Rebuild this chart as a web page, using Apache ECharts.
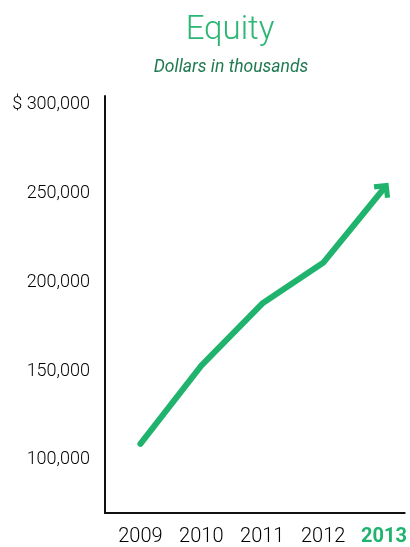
<!DOCTYPE html>
<html>
<head>
<meta charset="utf-8">
<script src="https://cdn.jsdelivr.net/npm/echarts@6/dist/echarts.min.js"></script>
<style>
html,body{margin:0;padding:0;background:#fff;}
#chart{width:410px;height:547px;}
</style>
</head>
<body>
<div id="chart"></div>
<script>
var years = [2009, 2010, 2011, 2012, 2013];
var equity = [109000, 153000, 188000, 211000, 253000];
var yTickValues = [100000, 150000, 200000, 250000, 300000];
var titleText = 'Equity';
var subtitleText = 'Dollars in thousands';

var GREEN = '#1fb36d';
var ARROW = 'path://M10,0 L20,10 L16.5,13.5 L10,7 L3.5,13.5 L0,10 Z';
var seriesData = years.map(function (y, i) {
  var d = { value: [y, equity[i]] };
  if (i === years.length - 1) {
    d.symbol = ARROW;
    d.symbolSize = [21, 14];
    d.symbolRotate = -39;
    d.itemStyle = { color: GREEN };
  }
  return d;
});

var chart = echarts.init(document.getElementById('chart'), null, { renderer: 'canvas' });
chart.setOption({
  animation: false,
  backgroundColor: '#fff',
  title: [
    { text: titleText, left: 225, textAlign: 'center', top: 9,
      textStyle: { fontFamily: 'Roboto', fontWeight: 300, fontSize: 33, color: '#2bb673' } },
    { text: subtitleText, left: 226, textAlign: 'center', top: 54,
      textStyle: { fontFamily: 'Roboto', fontStyle: 'italic', fontWeight: 'normal', fontSize: 17.5, color: '#1f7a52' } }
  ],
  grid: { left: 105, right: 0, top: 96, bottom: 28, containLabel: false },
  xAxis: {
    type: 'value',
    min: 2008.419,
    max: 2013.339,
    axisLine: { show: true, lineStyle: { color: '#111', width: 2 } },
    axisTick: { show: false },
    splitLine: { show: false },
    axisLabel: {
      customValues: years,
      margin: 14,
      fontFamily: 'Roboto',
      fontWeight: 300,
      fontSize: 20,
      color: '#000',
      formatter: function (v) {
        return v === 2013 ? '{hl|' + v + '}' : String(v);
      },
      rich: { hl: { fontFamily: 'Roboto', fontSize: 20, fontWeight: 'bold', color: GREEN } }
    }
  },
  yAxis: {
    type: 'value',
    min: 70000,
    max: 305000,
    axisLine: { show: true, lineStyle: { color: '#111', width: 2 } },
    axisTick: { show: false },
    splitLine: { show: false },
    axisLabel: {
      customValues: yTickValues,
      margin: 15,
      fontFamily: 'Roboto',
      fontWeight: 300,
      fontSize: 18,
      color: '#000',
      formatter: function (v) {
        var s = String(v).replace(/\B(?=(\d{3})+(?!\d))/g, ',');
        return v === 300000 ? '$ ' + s : s;
      }
    }
  },
  series: [{
    type: 'line',
    data: seriesData,
    symbol: 'none',
    showSymbol: true,
    lineStyle: { color: GREEN, width: 6, cap: 'round', join: 'round' },
    itemStyle: { color: GREEN },
    clip: false
  }]
});
</script>
</body>
</html>
